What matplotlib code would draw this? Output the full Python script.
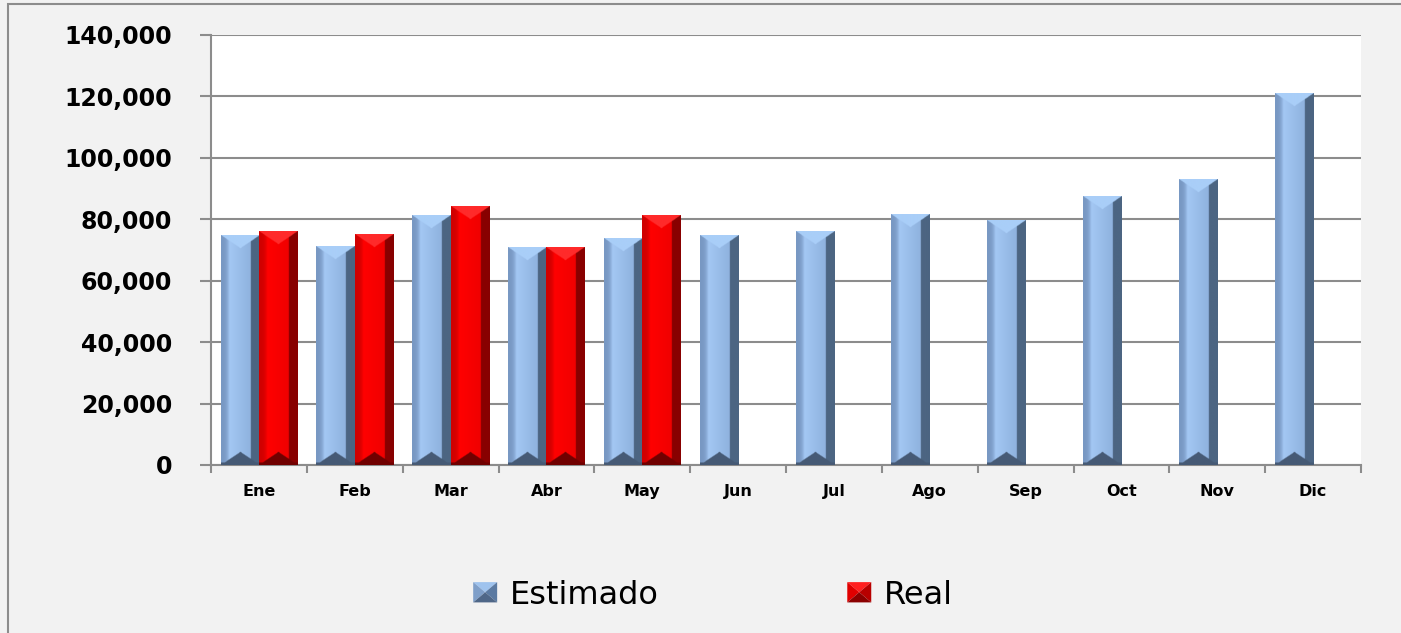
import numpy as np
import matplotlib
matplotlib.use("Agg")
import matplotlib.pyplot as plt
from matplotlib.patches import Rectangle, Polygon, Patch
from matplotlib.legend_handler import HandlerBase
from matplotlib.ticker import FuncFormatter, MultipleLocator

# data
months = ['Ene', 'Feb', 'Mar', 'Abr', 'May', 'Jun', 'Jul', 'Ago', 'Sep', 'Oct', 'Nov', 'Dic']
estimado = [74600, 71300, 81100, 70700, 73600, 74600, 75900, 81700, 79500, 87300, 92800, 121100]
real = [75900, 75200, 84300, 70700, 81100]

# face colours: left, right, top, bottom, center-light, center-dark
blue_faces = ['#7898c3', '#4c6582', '#a9cef8', '#465a75', '#a3c7f3', '#8fb2de']
red_faces = ['#d00000', '#880000', '#ff2a2a', '#700000', '#ff0000', '#f00000']

W, H, DPI = 14.01, 6.33, 100
fig = plt.figure(figsize=(W, H), dpi=DPI)
fig.patch.set_facecolor('#f2f2f2')
fig.patches.append(Rectangle((8 / 1401, -0.1), 1.2, 1 - 4 / 633 + 0.1, transform=fig.transFigure,
                             fill=False, edgecolor='#8c8c8c', linewidth=1.5))

ax_l, ax_r, ax_t, ax_b = 211, 1361, 35, 465
ax = fig.add_axes([ax_l / 1401, 1 - ax_b / 633, (ax_r - ax_l) / 1401, (ax_b - ax_t) / 633])
ax.set_facecolor('white')

YMAX = 140000
px_per_x = (ax_r - ax_l) / 12.0
px_per_y = (ax_b - ax_t) / YMAX


def hex2rgb(h):
    return np.array(matplotlib.colors.to_rgb(h))


def bevel_img(wpx, hpx, faces):
    # bar picture with a beveled look: side bands plus V-shaped top and bottom
    w = max(int(round(wpx)), 2)
    h = max(int(round(hpx)), 2)
    X, Y = np.meshgrid(np.arange(w) + 0.5, np.arange(h) + 0.5)
    cols = [hex2rgb(c) for c in faces]
    img = np.zeros((h, w, 3))
    t = np.clip((X - 0.22 * w) / (0.54 * w), 0, 1)[..., None]
    center = cols[4] * (1 - t) + cols[5] * t
    img[:] = center
    # left band with soft gradient into the center
    tl = np.clip(X / (0.22 * w), 0, 1)[..., None]
    left = cols[0] * (1 - tl ** 3) + cols[4] * tl ** 3
    m = X < 0.22 * w
    img[m] = left[m]
    m = X > 0.76 * w
    img[m] = cols[1]
    depth = 0.34 * w * (1 - np.abs(X - w / 2) / (w / 2))
    img[Y < depth] = cols[2]
    img[(h - Y) < np.maximum(depth, 0.06 * w)] = cols[3]
    return img


x = np.arange(len(months))
bw = 0.4
b1 = ax.bar(x - bw / 2, estimado, width=bw, color='none', edgecolor='none')
b2 = ax.bar(x[:len(real)] + bw / 2, real, width=bw, color='none', edgecolor='none')

for bars, faces in [(b1, blue_faces), (b2, red_faces)]:
    for p in bars:
        x0, y0 = p.get_x(), p.get_y()
        w, h = p.get_width(), p.get_height()
        img = bevel_img(w * px_per_x * 2, h * px_per_y * 2, faces)
        ax.imshow(img, extent=(x0, x0 + w, y0, y0 + h), aspect='auto',
                  interpolation='bilinear', zorder=3)

ax.set_xlim(-0.5, 11.5)
ax.set_ylim(0, YMAX)
ax.yaxis.set_major_locator(MultipleLocator(20000))
ax.yaxis.set_major_formatter(FuncFormatter(lambda v, p: f'{int(v):,}'))
ax.grid(axis='y', color='#8c8c8c', linewidth=1.5, zorder=1)
ax.set_axisbelow(True)

for s in ['top', 'right']:
    ax.spines[s].set_visible(False)
for s in ['left', 'bottom']:
    ax.spines[s].set_color('#8c8c8c')
    ax.spines[s].set_linewidth(1.5)

ax.tick_params(axis='y', length=8, width=1.5, color='#8c8c8c', pad=20, labelsize=17)
for lab in ax.get_yticklabels():
    lab.set_fontweight('bold')

ax.set_xticks(x)
ax.set_xticklabels(months, fontsize=11.5, fontweight='bold')
ax.set_xticks(np.arange(-0.5, 12, 1), minor=True)
ax.tick_params(axis='x', which='major', length=0, pad=14)
ax.tick_params(axis='x', which='minor', length=6, width=1.5, color='#8c8c8c')


class BevelHandler(HandlerBase):
    def __init__(self, cols):
        super().__init__()
        self.cols = cols

    def create_artists(self, legend, orig_handle, xdescent, ydescent, width, height, fontsize, trans):
        x0, y0 = -xdescent, -ydescent
        cx, cy = x0 + width / 2, y0 + height / 2
        c = self.cols
        tris = [
            ([(x0, y0 + height), (x0 + width, y0 + height), (cx, cy)], c[2]),
            ([(x0, y0), (x0, y0 + height), (cx, cy)], c[0]),
            ([(x0 + width, y0), (x0 + width, y0 + height), (cx, cy)], c[1]),
            ([(x0, y0), (x0 + width, y0), (cx, cy)], c[3]),
        ]
        arts = []
        for pts, col in tris:
            pg = Polygon(pts, closed=True, facecolor=col, edgecolor='none', transform=trans)
            arts.append(pg)
        return arts


h1 = Patch(label='Estimado')
h2 = Patch(label='Real')
leg = fig.legend([h1, h2], ['Estimado', 'Real'], loc='center', bbox_to_anchor=(0.509, 0.06),
                 ncol=2, frameon=False, fontsize=23, handlelength=0.75, handleheight=0.6,
                 handletextpad=0.4, columnspacing=5.9,
                 handler_map={h1: BevelHandler(['#7f9fc9', '#5b7aa2', '#9fc3ee', '#4f6788']),
                              h2: BevelHandler(['#e00000', '#b80000', '#ff2020', '#8b0000'])})

fig.savefig('out.png', dpi=DPI, facecolor=fig.get_facecolor())
